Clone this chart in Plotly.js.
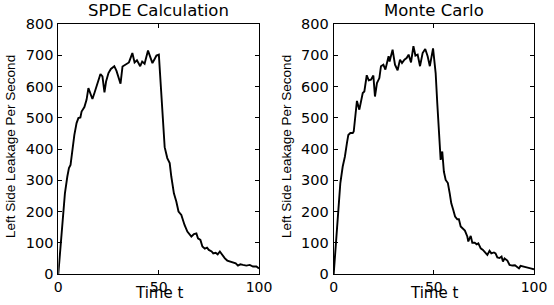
<!DOCTYPE html>
<html>
<head>
<meta charset="utf-8">
<script src="https://cdn.plot.ly/plotly-3.0.1.min.js"></script>
<style>html,body{margin:0;padding:0;background:#fff;}#chart{width:554px;height:305px;}</style>
</head>
<body>
<div id="chart"></div>
<script>
var titles = ["SPDE Calculation", "Monte Carlo"];
var xLabel = "Time t";
var yLabel = "Left Side Leakage Per Second";
var xTicks = [0, 50, 100];
var yTicks = [0, 100, 200, 300, 400, 500, 600, 700, 800];

var spdeT = [0, 1.7, 3.3, 4.5, 5.3, 6.1, 6.9, 8, 9.1, 10, 11, 11.6, 13, 14.1, 15, 15.8, 17, 18, 19, 20.3, 21, 22, 23, 23.8, 25, 26.2, 27.9, 29, 31, 32, 33.6, 35.2, 36.9, 38, 39.2, 40.8, 41.8, 43, 44.7, 45.9, 46.9, 48, 48.9, 50.1, 51, 52.2, 53, 54.3, 55.5, 56.3, 57.6, 58.8, 59.9, 61.3, 62.1, 62.9, 64.3, 65.4, 66.3, 67.6, 68.8, 69.6, 70.8, 71.8, 73, 74.1, 75, 76.4, 77.2, 78.4, 79.4, 80.5, 81.7, 83, 84.2, 85.4, 87.1, 88.4, 89.5, 90.7, 92, 93.7, 95.4, 97, 98.7, 100];
var spdeY = [0, 120, 258, 312, 339, 349, 397, 445, 483, 499, 501, 520, 534, 558, 595, 581, 560, 579, 600, 622, 640, 632, 581, 616, 643, 656, 665, 650, 609, 664, 670, 677, 707, 677, 684, 665, 680, 673, 715, 691, 675, 688, 699, 702, 600, 493, 406, 371, 355, 312, 258, 232, 200, 189, 168, 157, 136, 125, 120, 128, 130, 114, 109, 88, 81, 84, 77, 72, 66, 68, 63, 72, 61, 50, 43, 40, 36, 34, 27, 31, 29, 27, 29, 24, 24, 18];

var mcT = [0, 1.1, 2.3, 3.3, 4.5, 5.6, 6.6, 7.3, 8.3, 9.5, 10, 10.6, 11.6, 12.8, 13.6, 14.5, 15.3, 16.5, 17.5, 18.6, 19.8, 20.6, 21.6, 22.8, 23.6, 24.8, 25.8, 27.4, 27.9, 29.4, 30.6, 31.9, 33.1, 34.1, 35.3, 36.4, 37.4, 38.6, 39.8, 40.8, 41.9, 43.1, 44.4, 45.7, 46.9, 48, 49.6, 50.9, 51.7, 52.6, 53.4, 54.2, 55, 55.9, 57, 57.9, 58.7, 59.7, 60.6, 61.7, 62.5, 63.4, 64.7, 65.5, 66.7, 67.2, 68.4, 69.2, 70.4, 71.4, 72.2, 73.4, 74.5, 75.9, 76.7, 77.8, 78.7, 80, 80.8, 81.7, 82.8, 83.8, 84.5, 85.3, 86.7, 87.8, 89.2, 90.5, 91.6, 92.5, 93.3, 95, 96.7, 98.3, 100];
var mcY = [0, 98, 216, 290, 344, 376, 419, 445, 451, 451, 456, 504, 554, 526, 552, 579, 584, 636, 620, 622, 635, 568, 611, 627, 665, 670, 654, 697, 680, 718, 670, 652, 686, 675, 686, 691, 702, 677, 729, 699, 702, 665, 707, 720, 697, 665, 722, 643, 547, 462, 365, 392, 328, 301, 291, 259, 226, 205, 184, 175, 175, 152, 143, 139, 120, 104, 122, 100, 100, 95, 98, 82, 77, 66, 61, 74, 66, 69, 66, 53, 51, 56, 40, 50, 43, 29, 27, 28, 24, 18, 26, 24, 21, 18, 15];

var W = 554, H = 305;
var FONT = "DejaVu Sans, Liberation Sans, Arial, sans-serif";
var FONT2 = "Liberation Sans, Arial, sans-serif";
var lineStyle = {color: "#000", width: 1.9};

var traces = [
  {x: spdeT, y: spdeY, type: "scatter", mode: "lines", line: lineStyle, xaxis: "x", yaxis: "y", hoverinfo: "skip"},
  {x: mcT, y: mcY, type: "scatter", mode: "lines", line: lineStyle, xaxis: "x2", yaxis: "y2", hoverinfo: "skip"}
];

function xa(dom, anchor) {
  return {domain: dom, anchor: anchor, range: [0, 100], tickvals: xTicks, ticktext: xTicks.map(String),
    showline: true, mirror: "ticks", linecolor: "#000", linewidth: 1, ticks: "inside", ticklen: 4, tickcolor: "#000",
    showgrid: false, zeroline: false, tickfont: {family: FONT, size: 14, color: "#000"}, ticklabelstandoff: 0};
}
function ya(anchor) {
  return {domain: [1 - 274 / H, 1 - 24 / H], anchor: anchor, range: [0, 800], tickvals: yTicks, ticktext: yTicks.map(String),
    showline: true, mirror: "ticks", linecolor: "#000", linewidth: 1, ticks: "inside", ticklen: 4, tickcolor: "#000",
    showgrid: false, zeroline: false, tickfont: {family: FONT, size: 14.5, color: "#000"}, ticklabelstandoff: 1};
}

var dom1 = [58.3 / W, 259 / W];
var dom2 = [333.7 / W, 534 / W];
var centers = [(dom1[0] + dom1[1]) / 2, (dom2[0] + dom2[1]) / 2];
var yLabelX = [10.5 / W, 286.5 / W];

var annotations = [];
for (var i = 0; i < 2; i++) {
  annotations.push({text: titles[i], xref: "paper", yref: "paper", x: centers[i], y: 1 - 10.5 / H, xanchor: "center", yanchor: "middle", showarrow: false, font: {family: FONT, size: 16.5, color: "#000"}});
  annotations.push({text: xLabel, xref: "paper", yref: "paper", x: centers[i], y: 1 - 304 / H, xanchor: "center", yanchor: "bottom", showarrow: false, font: {family: FONT, size: 15, color: "#000"}});
  annotations.push({text: yLabel, xref: "paper", yref: "paper", x: yLabelX[i], y: 1 - 146.5 / H, xanchor: "center", yanchor: "middle", textangle: -90, showarrow: false, font: {family: FONT2, size: 13.5, color: "#000"}});
}

var layout = {
  width: W, height: H, margin: {l: 0, r: 0, t: 0, b: 0},
  paper_bgcolor: "#fff", plot_bgcolor: "#fff", showlegend: false,
  xaxis: xa(dom1, "y"), yaxis: ya("x"),
  xaxis2: xa(dom2, "y2"), yaxis2: ya("x2"),
  annotations: annotations
};

Plotly.newPlot("chart", traces, layout, {staticPlot: true, displayModeBar: false});
</script>
</body>
</html>
